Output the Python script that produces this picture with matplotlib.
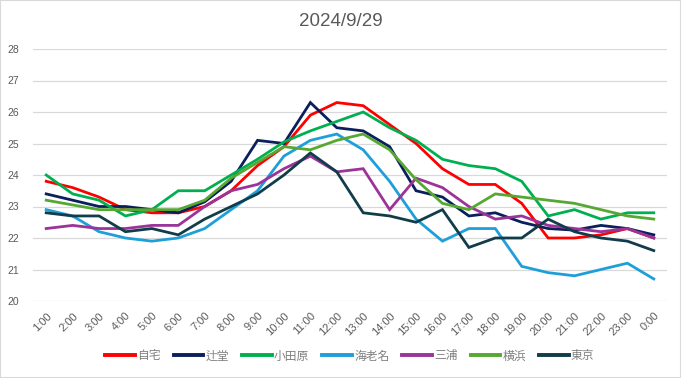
import matplotlib.pyplot as plt
from matplotlib.patches import Rectangle

plt.rcParams['font.family'] = ['Liberation Sans', 'Noto Sans CJK JP', 'DejaVu Sans']

hours = ["1:00", "2:00", "3:00", "4:00", "5:00", "6:00", "7:00", "8:00",
         "9:00", "10:00", "11:00", "12:00", "13:00", "14:00", "15:00", "16:00",
         "17:00", "18:00", "19:00", "20:00", "21:00", "22:00", "23:00", "0:00"]

jitaku = [23.8, 23.6, 23.3, 22.9, 22.8, 22.8, 23.0, 23.5, 24.3, 24.9, 25.9, 26.3,
          26.2, 25.6, 25.0, 24.2, 23.7, 23.7, 23.1, 22.0, 22.0, 22.1, 22.3, 22.0]
tsujido = [23.4, 23.2, 23.0, 23.0, 22.9, 22.8, 23.15, 23.8, 25.1, 25.0, 26.3, 25.5,
           25.4, 24.9, 23.5, 23.3, 22.7, 22.8, 22.5, 22.3, 22.25, 22.4, 22.3, 22.1]
odawara = [24.0, 23.4, 23.2, 22.7, 22.9, 23.5, 23.5, 24.0, 24.5, 25.05, 25.4, 25.7,
           26.0, 25.5, 25.1, 24.5, 24.3, 24.2, 23.8, 22.7, 22.9, 22.6, 22.8, 22.8]
ebina = [22.9, 22.7, 22.2, 22.0, 21.9, 22.0, 22.3, 22.9, 23.5, 24.6, 25.1, 25.3,
         24.8, 23.8, 22.6, 21.9, 22.3, 22.3, 21.1, 20.9, 20.8, 21.0, 21.2, 20.7]
miura = [22.3, 22.4, 22.3, 22.3, 22.4, 22.4, 23.0, 23.5, 23.7, 24.2, 24.6, 24.1,
         24.2, 22.9, 23.9, 23.6, 23.0, 22.6, 22.7, 22.4, 22.3, 22.2, 22.3, 22.0]
yokohama = [23.2, 23.05, 22.9, 22.9, 22.9, 22.9, 23.2, 23.9, 24.4, 24.9, 24.8, 25.1,
            25.3, 24.8, 23.85, 23.1, 22.9, 23.4, 23.3, 23.2, 23.1, 22.9, 22.7, 22.6]
tokyo = [22.8, 22.7, 22.7, 22.2, 22.3, 22.1, 22.6, 23.0, 23.4, 24.0, 24.7, 24.1,
         22.8, 22.7, 22.5, 22.9, 21.7, 22.0, 22.0, 22.6, 22.2, 22.0, 21.9, 21.6]

series = [("自宅", jitaku, "#FF0000"),
          ("辻堂", tsujido, "#0A1F5C"),
          ("小田原", odawara, "#00B050"),
          ("海老名", ebina, "#1E9FD9"),
          ("三浦", miura, "#9B3398"),
          ("横浜", yokohama, "#56A832"),
          ("東京", tokyo, "#113C4A")]

fig = plt.figure(figsize=(6.81, 3.78), dpi=100)
ax = fig.add_axes([33/681, 1 - 301/378, 634/681, 252/378])

x = range(len(hours))
for name, vals, col in series:
    ax.plot(x, vals, color=col, linewidth=2.0, label=name, solid_joinstyle='miter')

ax.set_xlim(-0.5, len(hours) - 0.5)
ax.set_ylim(20, 28)
ax.set_yticks(range(20, 29))
ax.set_xticks(list(x))
ax.set_xticklabels(hours, rotation=45, ha='right', rotation_mode='anchor')
ax.tick_params(axis='both', length=0, labelsize=7.5, labelcolor='#595959')
ax.tick_params(axis='y', pad=10)
ax.tick_params(axis='x', pad=7, labelsize=8)
ax.grid(axis='y', color='#D9D9D9', linewidth=0.9)
ax.set_axisbelow(True)
for s in ax.spines.values():
    s.set_visible(False)

fig.text(0.5, 1 - 21/378, "2024/9/29", ha='center', va='center',
         fontsize=13.5, color='#595959')

ax.legend(loc='center', bbox_to_anchor=(0.5, (1 - 356/378 - (1 - 301/378)) / (252/378)),
          ncol=7, frameon=False, handlelength=2.5, handletextpad=0.2,
          columnspacing=1.1, labelcolor='#7F7F7F',
          prop={'family': ['Noto Sans CJK JP', 'DejaVu Sans'], 'size': 8.5})
for line in ax.get_legend().get_lines():
    line.set_linewidth(2.8)

fig.patches.append(Rectangle((0, 0), 1, 1, transform=fig.transFigure, fill=False,
                             edgecolor='#D9D9D9', linewidth=1.5))

plt.savefig("out.png", dpi=100)
plt.close()
